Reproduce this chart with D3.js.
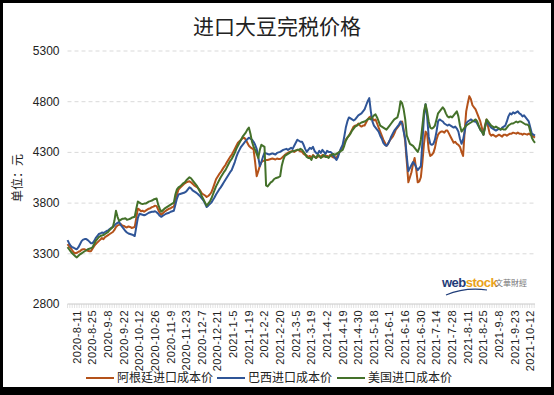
<!DOCTYPE html>
<html>
<head>
<meta charset="utf-8">
<script src="https://cdn.jsdelivr.net/npm/d3@7"></script>
<style>
	html, body { margin: 0; padding: 0; background: #000; }
	svg { display: block; }
</style>
</head>
<body>
<svg id="chart" width="554" height="395"></svg>
<script>
	var title = '进口大豆完税价格';
	var unitLabel = '单位：元';
	var seriesNames = ['阿根廷进口成本价', '巴西进口成本价', '美国进口成本价'];
	var yTicks = [2800, 3300, 3800, 4300, 4800, 5300];

	// every 10th trading day gets a label, starting 6 days into the data
	var tickLabels = ['2020-8-11', '2020-8-25', '2020-9-8', '2020-9-22', '2020-10-12', '2020-10-26',
		'2020-11-9', '2020-11-23', '2020-12-7', '2020-12-21', '2021-1-5', '2021-1-19', '2021-2-2',
		'2021-2-20', '2021-3-5', '2021-3-19', '2021-4-2', '2021-4-19', '2021-4-30', '2021-5-18',
		'2021-6-1', '2021-6-16', '2021-6-30', '2021-7-14', '2021-7-28', '2021-8-11', '2021-8-25',
		'2021-9-8', '2021-9-23', '2021-10-12'];
	var firstLabelIndex = 6;
	var labelStep = 10;

	var argentina = [
		3390, 3370, 3350, 3330, 3310, 3300, 3305, 3315, 3320, 3335,
		3340, 3340, 3330, 3325, 3320, 3320, 3345, 3370, 3390, 3405,
		3420, 3435, 3450, 3440, 3460, 3470, 3480, 3490, 3500, 3510,
		3530, 3560, 3575, 3580, 3590, 3575, 3570, 3560, 3555, 3565,
		3560, 3550, 3555, 3560, 3650, 3740, 3730, 3715, 3720, 3710,
		3720, 3730, 3740, 3745, 3755, 3760, 3770, 3765, 3730, 3700,
		3680, 3695, 3710, 3720, 3730, 3740, 3745, 3755, 3760, 3820,
		3880, 3930, 3945, 3960, 3975, 3990, 4000, 4005, 4010, 4000,
		3985, 3970, 3960, 3950, 3935, 3915, 3890, 3880, 3870, 3855,
		3865, 3880, 3900, 3940, 3985, 4030, 4055, 4080, 4100, 4125,
		4150, 4170, 4200, 4225, 4250, 4270, 4300, 4330, 4360, 4390,
		4405, 4420, 4435, 4440, 4420, 4390, 4360, 4345, 4335, 4325,
		4200, 4060, 4110, 4160, 4200, 4210, 4215, 4220, 4220, 4225,
		4230, 4235, 4230, 4225, 4235, 4230, 4230, 4240, 4255, 4270,
		4280, 4290, 4300, 4305, 4310, 4300, 4310, 4320, 4315, 4305,
		4300, 4280, 4270, 4265, 4250, 4260, 4240, 4270, 4255, 4240,
		4250, 4265, 4245, 4270, 4255, 4260, 4260, 4250, 4270, 4255,
		4245, 4250, 4240, 4270, 4300, 4330, 4350, 4390, 4420, 4440,
		4460, 4490, 4520, 4550, 4560, 4560, 4580, 4560, 4550, 4560,
		4560, 4590, 4620, 4640, 4650, 4630, 4610, 4620, 4580, 4540,
		4500, 4460, 4420, 4390, 4360, 4380, 4410, 4430, 4450, 4480,
		4520, 4540, 4560, 4580, 4600, 4520, 4400, 4200, 4000, 4050,
		4100, 4180, 4240, 4130, 4000, 4010, 4050, 4200, 4380, 4500,
		4480, 4320, 4260, 4270, 4290, 4340, 4420, 4470, 4490, 4500,
		4500, 4490, 4510, 4510, 4480, 4450, 4420, 4390, 4400, 4380,
		4370, 4350, 4300, 4260, 4500, 4700, 4780, 4850, 4820, 4760,
		4740, 4720, 4680, 4640, 4600, 4540, 4470, 4560, 4620, 4550,
		4480, 4460, 4470, 4460, 4450, 4460, 4470, 4460, 4450, 4470,
		4470, 4460, 4470, 4480, 4480, 4490, 4485, 4480, 4490, 4480,
		4480, 4470, 4480, 4475, 4470, 4480, 4470, 4460, 4450, 4440
	];

	var brazil = [
		3430, 3400, 3375, 3360, 3355, 3345, 3340, 3360, 3390, 3420,
		3435, 3440, 3440, 3430, 3415, 3400, 3400, 3420, 3450, 3470,
		3490, 3495, 3505, 3500, 3510, 3520, 3525, 3540, 3550, 3560,
		3575, 3590, 3600, 3610, 3580, 3560, 3540, 3520, 3505, 3495,
		3490, 3485, 3480, 3470, 3560, 3650, 3690, 3685, 3680, 3675,
		3680, 3690, 3700, 3705, 3710, 3710, 3715, 3705, 3690, 3670,
		3660, 3670, 3680, 3690, 3695, 3700, 3710, 3715, 3720, 3780,
		3840, 3880, 3885, 3890, 3895, 3900, 3910, 3930, 3950, 3940,
		3920, 3910, 3900, 3890, 3875, 3860, 3840, 3820, 3790, 3756,
		3770, 3785, 3800, 3825, 3850, 3880, 3905, 3930, 3950, 3975,
		4000, 4025, 4050, 4075, 4100, 4120, 4160, 4200, 4250, 4290,
		4320, 4350, 4370, 4390, 4410, 4425, 4440, 4430, 4420, 4400,
		4370, 4330, 4250, 4160, 4200, 4250, 4290, 4285, 4280, 4275,
		4280, 4285, 4280, 4275, 4290, 4295, 4300, 4310, 4320, 4325,
		4330, 4320, 4330, 4340, 4330, 4360, 4390, 4420, 4410, 4400,
		4400, 4370, 4330, 4300, 4320, 4340, 4330, 4350, 4310, 4290,
		4280, 4310, 4290, 4320, 4300, 4280, 4310, 4300, 4300, 4290,
		4260, 4240, 4220, 4250, 4300, 4340, 4370, 4450, 4540, 4600,
		4640, 4630, 4620, 4610, 4620, 4640, 4660, 4670, 4680, 4700,
		4720, 4760, 4800, 4830, 4700, 4600, 4560, 4540, 4520, 4500,
		4460, 4430, 4390, 4370, 4360, 4380, 4410, 4450, 4480, 4510,
		4530, 4550, 4570, 4600, 4580, 4500, 4430, 4250, 4110, 4140,
		4170, 4200, 4180, 4150, 4120, 4140, 4160, 4400, 4650, 4770,
		4650, 4450, 4380, 4370, 4380, 4420, 4500, 4600, 4620, 4610,
		4600, 4580, 4570, 4560, 4570, 4560, 4550, 4540, 4550, 4530,
		4500, 4430, 4380, 4420, 4500, 4580, 4600, 4610, 4620, 4610,
		4600, 4600, 4580, 4550, 4520, 4500, 4470, 4540, 4600, 4580,
		4560, 4540, 4530, 4520, 4510, 4520, 4530, 4520, 4540, 4550,
		4560, 4600, 4650, 4680, 4670, 4690, 4680, 4690, 4700, 4680,
		4670, 4650, 4660, 4640, 4620, 4600, 4540, 4480, 4470, 4460
	];

	var usa = [
		3360, 3340, 3320, 3300, 3285, 3270, 3260, 3275, 3290, 3300,
		3310, 3320, 3330, 3340, 3345, 3350, 3360, 3390, 3420, 3440,
		3460, 3470, 3475, 3480, 3490, 3500, 3510, 3530, 3545, 3560,
		3620, 3720, 3660, 3620, 3630, 3640, 3640, 3645, 3630, 3635,
		3640, 3650, 3655, 3660, 3740, 3810, 3800, 3790, 3785, 3790,
		3790, 3800, 3810, 3815, 3820, 3830, 3835, 3840, 3780, 3740,
		3710, 3725, 3740, 3750, 3760, 3770, 3780, 3790, 3800, 3880,
		3930, 3950, 3960, 3975, 3990, 4000, 4020, 4035, 4050, 4040,
		4020, 4000, 3980, 3960, 3930, 3900, 3860, 3830, 3800, 3770,
		3790, 3810, 3840, 3880, 3920, 3960, 3990, 4020, 4050, 4075,
		4100, 4120, 4150, 4180, 4210, 4230, 4260, 4290, 4330, 4360,
		4390, 4420, 4450, 4470, 4490, 4520, 4540, 4480, 4400, 4350,
		4320, 4280, 4240, 4320, 4370, 4360, 4350, 3970, 3960, 3980,
		4000, 4010, 4030, 4040, 4045, 4050, 4060, 4160, 4220, 4260,
		4270, 4280, 4290, 4300, 4305, 4310, 4315, 4320, 4320, 4330,
		4320, 4300, 4280, 4250, 4240, 4240, 4220, 4260, 4250, 4240,
		4270, 4260, 4240, 4250, 4270, 4250, 4250, 4240, 4260, 4270,
		4280, 4270, 4280, 4290, 4300, 4310, 4320, 4360, 4410, 4440,
		4460, 4480, 4510, 4530, 4550, 4560, 4570, 4580, 4590, 4595,
		4600, 4610, 4620, 4630, 4620, 4640, 4660, 4670, 4640, 4600,
		4560, 4550, 4540, 4530, 4520, 4540, 4560, 4580, 4600, 4620,
		4630, 4640, 4700, 4800, 4780, 4720, 4620, 4460, 4420, 4380,
		4370, 4360, 4340, 4320, 4300, 4340, 4420, 4560, 4700, 4770,
		4700, 4600, 4540, 4530, 4540, 4560, 4620, 4680, 4700, 4720,
		4740, 4720, 4680, 4650, 4640, 4650, 4640, 4660, 4680, 4700,
		4650, 4560, 4500, 4520, 4540, 4560, 4570, 4580, 4590, 4600,
		4610, 4620, 4600, 4560, 4520, 4500, 4470, 4540, 4620, 4600,
		4580, 4560, 4550, 4540, 4550, 4540, 4530, 4520, 4530, 4520,
		4520, 4540, 4560, 4570, 4580, 4580, 4590, 4600, 4590, 4600,
		4600, 4590, 4580, 4570, 4570, 4560, 4500, 4440, 4410, 4390
	];

	var colors = ['#b4521a', '#2f5597', '#44712a'];

(function() {
	var cjk = '"Noto Sans CJK SC", "Microsoft YaHei", sans-serif';
	var latin = '"Liberation Sans", Arial, sans-serif';

	var svg = d3.select('#chart');
	var plotLeft = 67.5, plotRight = 535, plotTop = 50.5, plotBottom = 304;

	svg.append('rect')
		.attr('x', 3).attr('y', 3)
		.attr('width', 548).attr('height', 384)
		.attr('fill', '#fff');

	var series = [argentina, brazil, usa];
	var n = argentina.length;

	var x = d3.scaleLinear().domain([0, n - 1]).range([plotLeft, plotRight]);
	var y = d3.scaleLinear().domain([2800, 5300]).range([plotBottom, plotTop]);

	svg.append('text')
		.attr('x', 277).attr('y', 34)
		.attr('text-anchor', 'middle')
		.attr('font-family', cjk)
		.attr('font-size', 21)
		.attr('fill', '#222')
		.text(title);

	// gridlines + y labels
	var yAxis = d3.axisLeft(y).tickValues(yTicks).tickFormat(d3.format('d')).tickSize(0).tickPadding(8);
	var gy = svg.append('g')
		.attr('transform', 'translate(' + plotLeft + ',0)')
		.call(yAxis);
	gy.select('.domain').remove();
	gy.selectAll('text')
		.attr('font-family', latin)
		.attr('font-size', 12)
		.attr('fill', '#222');
	gy.selectAll('.tick').filter(function(d) { return d > 2800; })
		.append('line')
		.attr('x1', 0).attr('x2', plotRight - plotLeft)
		.attr('stroke', '#d9d9d9')
		.attr('stroke-dasharray', '4,3');

	svg.append('text')
		.attr('transform', 'translate(22,178) rotate(-90)')
		.attr('text-anchor', 'middle')
		.attr('font-family', cjk)
		.attr('font-size', 12)
		.attr('fill', '#222')
		.text(unitLabel);

	// x axis: small tick marks along the day axis, label every 10th day
	var gx = svg.append('g').attr('class', 'x-axis');
	gx.append('line')
		.attr('x1', plotLeft).attr('x2', plotRight)
		.attr('y1', plotBottom).attr('y2', plotBottom)
		.attr('stroke', '#c8c8c8');
	gx.selectAll('line.tick')
		.data(d3.range(0, n, 1.5))
		.enter().append('line')
		.attr('class', 'tick')
		.attr('x1', function(d) { return x(d); })
		.attr('x2', function(d) { return x(d); })
		.attr('y1', plotBottom).attr('y2', plotBottom + 4)
		.attr('stroke', '#d0d0d0')
		.attr('stroke-width', 0.6);
	gx.selectAll('text')
		.data(tickLabels)
		.enter().append('text')
		.attr('transform', function(d, i) {
			return 'translate(' + x(firstLabelIndex + i * labelStep) + ',' + (plotBottom + 6) + ') rotate(-90)';
		})
		.attr('dy', '0.35em')
		.attr('text-anchor', 'end')
		.attr('font-family', latin)
		.attr('font-size', 11)
		.attr('letter-spacing', 0.5)
		.attr('fill', '#222')
		.text(function(d) { return d; });

	// webstock mark
	var logo = svg.append('g');
	logo.append('text')
		.attr('x', 442).attr('y', 287)
		.attr('font-family', latin)
		.attr('font-weight', 'bold')
		.attr('font-size', 13)
		.attr('letter-spacing', -0.5)
		.html('<tspan fill="#1f3c78">web</tspan><tspan fill="#e9a21a">stock</tspan>');
	logo.append('path')
		.attr('d', 'M446,295 Q465,287 487,290')
		.attr('fill', 'none')
		.attr('stroke', '#1f3c78')
		.attr('stroke-width', 1.2);
	logo.append('text')
		.attr('x', 495).attr('y', 286)
		.attr('font-family', cjk)
		.attr('font-size', 8)
		.attr('fill', '#777')
		.text('文華財經');

	var line = d3.line()
		.x(function(d, i) { return x(i); })
		.y(function(d) { return y(d); });

	svg.append('g').selectAll('path')
		.data(series)
		.enter().append('path')
		.attr('d', line)
		.attr('fill', 'none')
		.attr('stroke', function(d, i) { return colors[i]; })
		.attr('stroke-width', 2)
		.attr('stroke-linejoin', 'round');

	// legend
	var legendX = [86, 217, 337];
	var legend = svg.append('g').selectAll('g')
		.data(seriesNames)
		.enter().append('g')
		.attr('transform', function(d, i) { return 'translate(' + legendX[i] + ',378)'; });
	legend.append('line')
		.attr('x1', 0).attr('x2', 28)
		.attr('stroke', function(d, i) { return colors[i]; })
		.attr('stroke-width', 2);
	legend.append('text')
		.attr('x', 31)
		.attr('dy', '0.35em')
		.attr('font-family', cjk)
		.attr('font-size', 12)
		.attr('fill', '#222')
		.text(function(d) { return d; });
})();
</script>
</body>
</html>
